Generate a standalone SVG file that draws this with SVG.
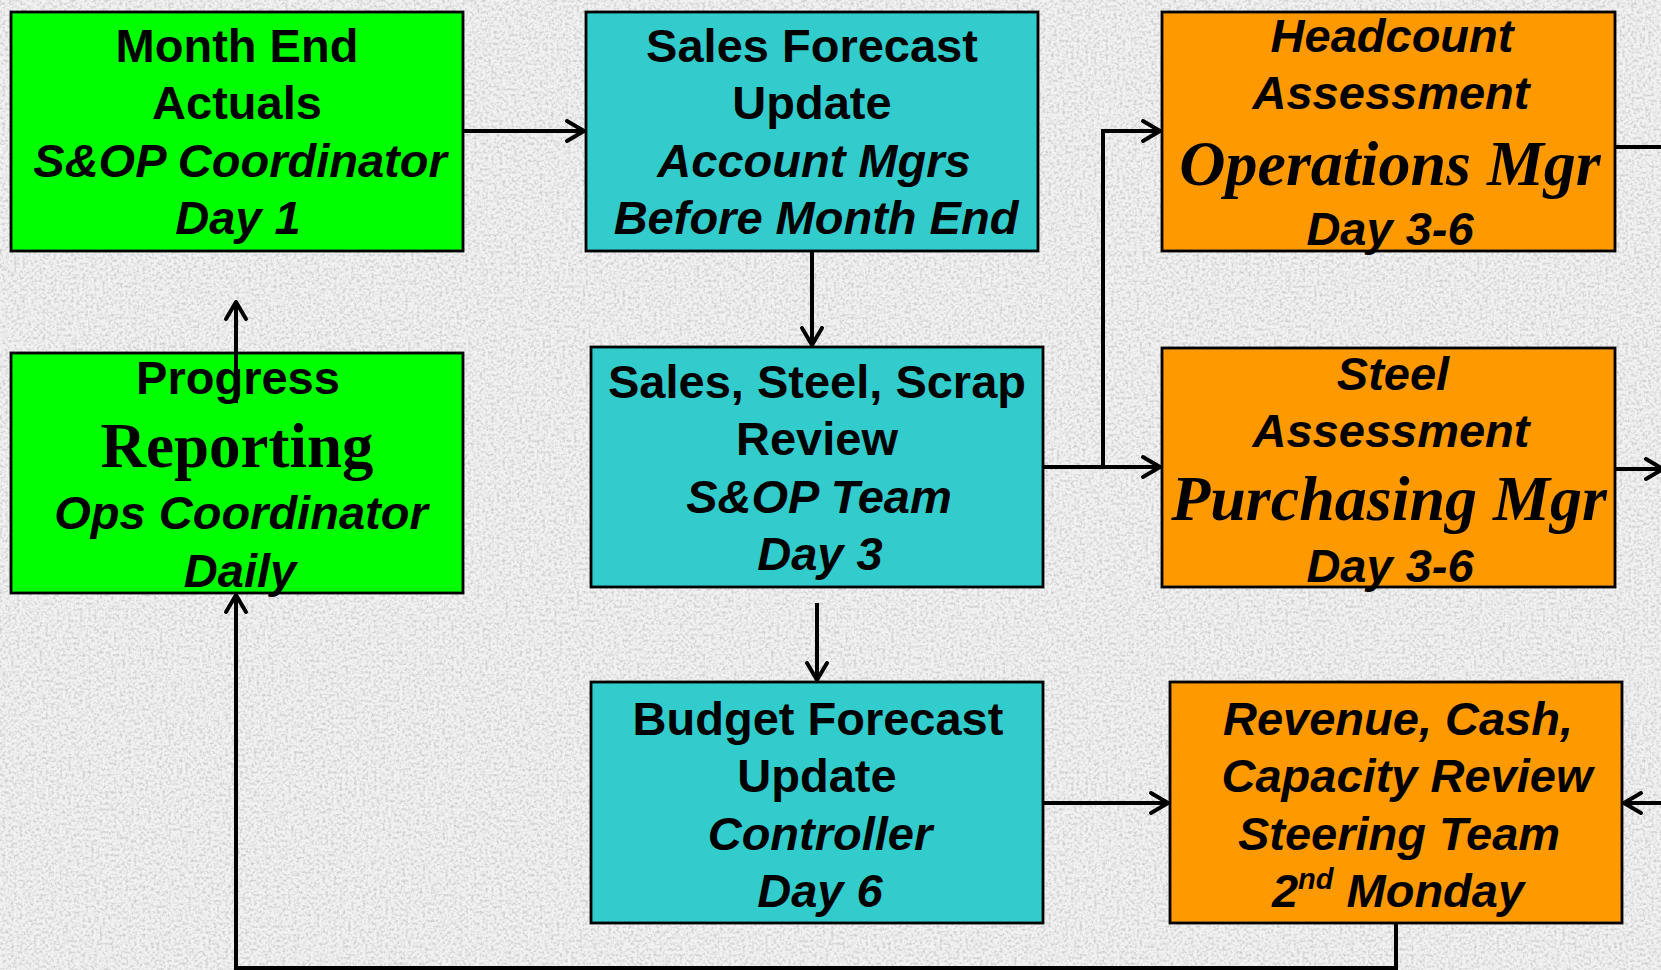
<svg xmlns="http://www.w3.org/2000/svg" width="1661" height="970" viewBox="0 0 1661 970">
  <defs>
    <style>
      .box { stroke: #000; stroke-width: 2.8; }
      .green { fill: #00ff00; }
      .teal { fill: #33cccc; }
      .orange { fill: #ff9900; }
      .txt { font-family: "Liberation Sans", Arial, sans-serif; font-weight: bold; font-size: 47px; text-anchor: middle; fill: #000; }
      .it { font-style: italic; }
      .serif { font-family: "Liberation Serif", "Times New Roman", serif; font-weight: bold; }
      .role { font-size: 64px; }
      .big { font-size: 63px; }
      .sup { font-size: 29px; }
      .conn { fill: none; stroke: #000; stroke-width: 4; stroke-linejoin: miter; }
      .arr { marker-end: url(#chevron); }
    </style>
    <marker id="chevron" viewBox="-22 -13 26 26" refX="0" refY="0" markerWidth="26" markerHeight="26" markerUnits="userSpaceOnUse" orient="auto">
      <path d="M -17 -10 L 0 0 L -17 10" fill="none" stroke="#000" stroke-width="4" stroke-linecap="round" stroke-linejoin="round"/>
    </marker>
    <filter id="grain" x="0" y="0" width="100%" height="100%" filterUnits="userSpaceOnUse">
      <feTurbulence type="fractalNoise" baseFrequency="0.35" numOctaves="3" seed="11" result="n"/>
      <feColorMatrix in="n" type="matrix" values="0 0 0 0 0.5  0 0 0 0 0.5  0 0 0 0 0.5  2.4 0 0 0 -1.0"/>
    </filter>
  </defs>

  <!-- speckled paper backdrop -->
  <rect x="0" y="0" width="1661" height="970" fill="#f2f2f2"/>
  <rect x="0" y="0" width="1661" height="970" fill="#fff" filter="url(#grain)" opacity="0.7"/>

  <g id="month-end-actuals">
    <rect class="box green" x="11" y="12" width="452" height="239"/>
    <text class="txt" x="237" y="62">Month End</text>
    <text class="txt" x="237" y="119">Actuals</text>
    <text class="txt it" x="240" y="177">S&amp;OP Coordinator</text>
    <text class="txt it" x="238" y="234">Day 1</text>
  </g>

  <g id="sales-forecast-update">
    <rect class="box teal" x="586" y="12" width="452" height="239"/>
    <text class="txt" x="812" y="62">Sales Forecast</text>
    <text class="txt" x="812" y="119">Update</text>
    <text class="txt it" x="814" y="177">Account Mgrs</text>
    <text class="txt it" x="816" y="234">Before Month End</text>
  </g>

  <g id="headcount-assessment">
    <rect class="box orange" x="1162" y="12" width="453" height="239"/>
    <text class="txt it" x="1392" y="52">Headcount</text>
    <text class="txt it" x="1391" y="109">Assessment</text>
    <text class="txt serif it role" x="1390" y="185">Operations Mgr</text>
    <text class="txt it" x="1390" y="245">Day 3-6</text>
  </g>

  <g id="progress-reporting">
    <rect class="box green" x="11" y="353" width="452" height="240"/>
    <text class="txt" x="238" y="394">Progress</text>
    <text class="txt serif big" x="237" y="467">Reporting</text>
    <text class="txt it" x="241" y="529">Ops Coordinator</text>
    <text class="txt it" x="240" y="587">Daily</text>
  </g>

  <g id="sales-steel-scrap-review">
    <rect class="box teal" x="591" y="347" width="452" height="240"/>
    <text class="txt" x="817" y="398">Sales, Steel, Scrap</text>
    <text class="txt" x="817" y="455">Review</text>
    <text class="txt it" x="819" y="513">S&amp;OP Team</text>
    <text class="txt it" x="820" y="570">Day 3</text>
  </g>

  <g id="steel-assessment">
    <rect class="box orange" x="1162" y="348" width="453" height="239"/>
    <text class="txt it" x="1393" y="390">Steel</text>
    <text class="txt it" x="1391" y="447">Assessment</text>
    <text class="txt serif it role" x="1389" y="520">Purchasing Mgr</text>
    <text class="txt it" x="1390" y="582">Day 3-6</text>
  </g>

  <g id="budget-forecast-update">
    <rect class="box teal" x="591" y="682" width="452" height="241"/>
    <text class="txt" x="818" y="735">Budget Forecast</text>
    <text class="txt" x="817" y="792">Update</text>
    <text class="txt it" x="820" y="850">Controller</text>
    <text class="txt it" x="820" y="907">Day 6</text>
  </g>

  <g id="revenue-cash-capacity-review">
    <rect class="box orange" x="1170" y="682" width="452" height="241"/>
    <text class="txt it" x="1398" y="735">Revenue, Cash,</text>
    <text class="txt it" x="1407" y="792">Capacity Review</text>
    <text class="txt it" x="1399" y="850">Steering Team</text>
    <text class="txt it" x="1398" y="907">2<tspan class="sup" dy="-18">nd</tspan><tspan dy="18"> Monday</tspan></text>
  </g>

  <g id="connectors">
    <path class="conn arr" d="M463,131 H584"/>
    <path class="conn arr" d="M812,251 V345"/>
    <path class="conn arr" d="M1043,467 H1160"/>
    <path class="conn arr" d="M1103,467 V131 H1160"/>
    <path class="conn arr" d="M817,603 V680"/>
    <path class="conn arr" d="M1043,803 H1168"/>
    <path class="conn" d="M1615,147 H1661"/>
    <path class="conn arr" d="M1615,469 H1663"/>
    <path class="conn arr" d="M1661,803 H1624"/>
    <path class="conn arr" d="M1396,923 V968 H236 V595"/>
    <path class="conn arr" d="M236,403 V302"/>
  </g>
</svg>
